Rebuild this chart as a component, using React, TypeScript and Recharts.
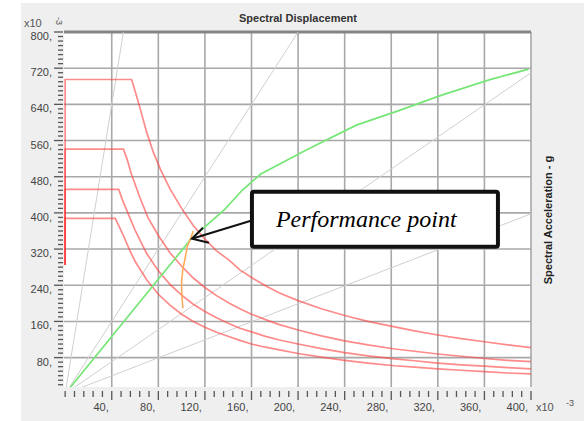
import React from "react";
import { LineChart, Line, XAxis, YAxis, CartesianGrid, ReferenceLine, ReferenceDot } from "recharts";

type P = { x: number; y: number };

// Demand spectra (ADRS), x = Sd (x10^-3), y = Sa (x10^-3 g)
const demand1: P[] = [
  { x: 0, y: 285 }, { x: 0, y: 695 }, { x: 57, y: 695 }, { x: 60, y: 670 }, { x: 65, y: 625 },
  { x: 70, y: 578 }, { x: 76, y: 532 }, { x: 82, y: 495 }, { x: 90, y: 453 }, { x: 100, y: 410 },
  { x: 110, y: 372 }, { x: 120, y: 342 }, { x: 130, y: 316 }, { x: 141, y: 295 }, { x: 150, y: 274 },
  { x: 160, y: 257 }, { x: 172, y: 239 }, { x: 184, y: 223 }, { x: 200, y: 206 }, { x: 220, y: 188 },
  { x: 240, y: 173 }, { x: 260, y: 160 }, { x: 283, y: 148 }, { x: 300, y: 139 }, { x: 320, y: 130 },
  { x: 340, y: 122 }, { x: 360, y: 115 }, { x: 380, y: 108 }, { x: 400, y: 102 },
];
const demand2: P[] = [
  { x: 0, y: 285 }, { x: 0, y: 541 }, { x: 50, y: 541 }, { x: 53, y: 520 }, { x: 57, y: 485 },
  { x: 64, y: 435 }, { x: 71, y: 390 }, { x: 80, y: 350 }, { x: 90, y: 312 }, { x: 100, y: 282 },
  { x: 110, y: 256 }, { x: 120, y: 235 }, { x: 130, y: 217 }, { x: 141, y: 200 }, { x: 150, y: 188 },
  { x: 160, y: 176 }, { x: 172, y: 164 }, { x: 184, y: 153 }, { x: 200, y: 141 }, { x: 220, y: 128 },
  { x: 240, y: 117 }, { x: 260, y: 108 }, { x: 283, y: 99 }, { x: 300, y: 94 }, { x: 320, y: 88 },
  { x: 340, y: 83 }, { x: 360, y: 78 }, { x: 380, y: 74 }, { x: 400, y: 71 },
];
const demand3: P[] = [
  { x: 0, y: 285 }, { x: 0, y: 452 }, { x: 46, y: 452 }, { x: 49, y: 430 }, { x: 53, y: 405 },
  { x: 60, y: 362 }, { x: 70, y: 310 }, { x: 80, y: 272 }, { x: 90, y: 242 }, { x: 100, y: 218 },
  { x: 110, y: 198 }, { x: 120, y: 182 }, { x: 130, y: 168 }, { x: 141, y: 155 }, { x: 150, y: 145 },
  { x: 160, y: 137 }, { x: 172, y: 127 }, { x: 184, y: 119 }, { x: 200, y: 110 }, { x: 220, y: 100 },
  { x: 240, y: 91 }, { x: 260, y: 84 }, { x: 283, y: 77 }, { x: 300, y: 73 }, { x: 320, y: 68 },
  { x: 340, y: 64 }, { x: 360, y: 61 }, { x: 380, y: 58 }, { x: 400, y: 55 },
];
const demand4: P[] = [
  { x: 0, y: 285 }, { x: 0, y: 388 }, { x: 43, y: 388 }, { x: 46, y: 372 }, { x: 50, y: 350 },
  { x: 55, y: 320 }, { x: 60, y: 293 }, { x: 70, y: 252 }, { x: 80, y: 220 }, { x: 90, y: 196 },
  { x: 100, y: 176 }, { x: 110, y: 160 }, { x: 120, y: 147 }, { x: 130, y: 136 }, { x: 141, y: 126 },
  { x: 150, y: 118 }, { x: 160, y: 110 }, { x: 172, y: 103 }, { x: 184, y: 97 }, { x: 200, y: 89 },
  { x: 220, y: 81 }, { x: 240, y: 74 }, { x: 260, y: 68 }, { x: 283, y: 62 }, { x: 300, y: 59 },
  { x: 320, y: 55 }, { x: 340, y: 52 }, { x: 360, y: 49 }, { x: 380, y: 46 }, { x: 400, y: 44 },
];

// Capacity curve (green)
const capacity: P[] = [
  { x: 0, y: 0 }, { x: 78, y: 247 }, { x: 108, y: 342 }, { x: 137, y: 408 }, { x: 152, y: 450 },
  { x: 168, y: 486 }, { x: 207, y: 539 }, { x: 250, y: 594 }, { x: 284, y: 624 }, { x: 324, y: 661 },
  { x: 364, y: 694 }, { x: 398, y: 718 },
];

// Demand point locus (orange)
const locus: P[] = [
  { x: 110, y: 360 }, { x: 108, y: 345 }, { x: 105, y: 327 }, { x: 103, y: 300 }, { x: 101, y: 274 },
  { x: 100, y: 250 }, { x: 100, y: 230 }, { x: 100.5, y: 210 }, { x: 101, y: 189 },
];

// Constant period lines (gray)
const period1: P[] = [{ x: 0, y: 0 }, { x: 50, y: 800 }];
const period2: P[] = [{ x: 0, y: 0 }, { x: 200, y: 800 }];
const period3: P[] = [{ x: 0, y: 0 }, { x: 400, y: 710 }];
const period4: P[] = [{ x: 0, y: 0 }, { x: 400, y: 398 }];

const performancePoint = { x: 108, y: 343 };

const xMajor = [40, 80, 120, 160, 200, 240, 280, 320, 360, 400];
const yMajor = [80, 160, 240, 320, 400, 480, 560, 640, 720, 800];
const xMinor = Array.from({ length: 51 }, (_, i) => i * 8);
const yMinor = Array.from({ length: 79 }, (_, i) => 20 + i * 10);

const FONT = "'Liberation Sans', Arial, sans-serif";

const XTick = (props: any) => {
  const { x, y, payload } = props;
  const v = payload.value;
  const major = xMajor.includes(v);
  return (
    <g>
      <line x1={x} x2={x} y1={y + 4} y2={y + (major ? 13 : 10)} stroke="#555" strokeWidth={1.3} />
      {major && (
        <text x={x - 3} y={y + 24} textAnchor="end" fontSize={11} fill="#444" fontFamily={FONT}>
          {v},
        </text>
      )}
    </g>
  );
};

const YTick = (props: any) => {
  const { x, y, payload } = props;
  const v = payload.value;
  const major = yMajor.includes(v);
  return (
    <g>
      <line x1={x - (major ? 10 : 6)} x2={x - 1} y1={y} y2={y} stroke="#555" strokeWidth={1.3} />
      {major && (
        <text x={x - 12} y={y + 8} textAnchor="end" fontSize={11} fill="#444" fontFamily={FONT}>
          {v},
        </text>
      )}
    </g>
  );
};

const PerfShape = (props: any) => {
  const { cx, cy } = props;
  if (cx == null || cy == null) return null;
  return (
    <g>
      <line x1={cx + 60} y1={cy - 18} x2={cx + 1} y2={cy} stroke="#111" strokeWidth={2} />
      <polyline
        points={`${cx + 12},${cy - 11} ${cx + 1},${cy} ${cx + 18},${cy + 4}`}
        fill="none"
        stroke="#111"
        strokeWidth={2}
      />
      <rect x={cx + 61} y={cy - 47} width={246} height={55} rx={2} fill="#fff" stroke="#111" strokeWidth={4} />
      <text
        x={cx + 85}
        y={cy - 12}
        fontSize={24}
        fontStyle="italic"
        fontFamily="'Liberation Serif', 'Times New Roman', serif"
        fill="#000"
      >
        Performance point
      </text>
    </g>
  );
};

const red = "#ff3c3c";

export default function App() {
  return (
    <div style={{ position: "absolute", left: 0, top: 0, width: 584, height: 421, background: "#fff", overflow: "hidden" }}>
      <div style={{ position: "absolute", left: 21, top: 3, width: 563, height: 418, background: "#efefef" }} />
      <div style={{ position: "absolute", left: 0, top: 0 }}>
        <LineChart width={584} height={421} margin={{ top: 32, right: 53, bottom: 0, left: 0 }}>
          <CartesianGrid
            horizontalValues={yMajor}
            verticalValues={xMajor}
            stroke="#a8a8a8"
            strokeWidth={1.6}
            fill="#fff"
          />
          <XAxis
            type="number"
            dataKey="x"
            domain={[-1, 400]}
            allowDataOverflow
            ticks={xMinor}
            interval={0}
            height={34}
            tickSize={0}
            tickMargin={0}
            axisLine={false}
            tickLine={false}
            tick={XTick}
          />
          <YAxis
            type="number"
            dataKey="y"
            domain={[15, 800]}
            allowDataOverflow
            ticks={yMinor}
            interval={0}
            width={64}
            tickSize={0}
            tickMargin={0}
            axisLine={false}
            tickLine={false}
            tick={YTick}
          />
          <ReferenceLine y={800} stroke="#858585" strokeWidth={3} />
          <Line data={period1} dataKey="y" type="linear" stroke="#cfcfcf" strokeWidth={1} dot={false} isAnimationActive={false} />
          <Line data={period2} dataKey="y" type="linear" stroke="#cfcfcf" strokeWidth={1} dot={false} isAnimationActive={false} />
          <Line data={period3} dataKey="y" type="linear" stroke="#cfcfcf" strokeWidth={1} dot={false} isAnimationActive={false} />
          <Line data={period4} dataKey="y" type="linear" stroke="#cfcfcf" strokeWidth={1} dot={false} isAnimationActive={false} />
          <Line data={demand1} dataKey="y" type="linear" stroke={red} strokeOpacity={0.6} strokeWidth={1.7} dot={false} isAnimationActive={false} />
          <Line data={demand2} dataKey="y" type="linear" stroke={red} strokeOpacity={0.6} strokeWidth={1.7} dot={false} isAnimationActive={false} />
          <Line data={demand3} dataKey="y" type="linear" stroke={red} strokeOpacity={0.6} strokeWidth={1.7} dot={false} isAnimationActive={false} />
          <Line data={demand4} dataKey="y" type="linear" stroke={red} strokeOpacity={0.6} strokeWidth={1.7} dot={false} isAnimationActive={false} />
          <Line data={capacity} dataKey="y" type="linear" stroke="#76e676" strokeWidth={1.7} dot={false} isAnimationActive={false} />
          <Line data={locus} dataKey="y" type="linear" stroke="#ffaa5a" strokeWidth={1.6} dot={false} isAnimationActive={false} />
          <ReferenceDot x={performancePoint.x} y={performancePoint.y} r={0} shape={PerfShape} />
        </LineChart>
      </div>
      <svg width={584} height={421} style={{ position: "absolute", left: 0, top: 0, pointerEvents: "none" }}>
        <text x={298} y={22} textAnchor="middle" fontSize={11} fontWeight="bold" fill="#333" fontFamily={FONT}>
          Spectral Displacement
        </text>
        <text
          x={552}
          y={220}
          textAnchor="middle"
          fontSize={11}
          fontWeight="bold"
          fill="#222"
          fontFamily={FONT}
          transform="rotate(-90 552 220)"
        >
          Spectral Acceleration - g
        </text>
        <text x={24} y={27} fontSize={11} fill="#555" fontFamily={FONT}>x10</text>
        <text x={56} y={17} fontSize={9} fill="#555" fontFamily={FONT} transform="rotate(90 56 17)">-3</text>
        <text x={536} y={411} fontSize={11} fill="#555" fontFamily={FONT}>x10</text>
        <text x={566} y={406} fontSize={9} fill="#555" fontFamily={FONT}>-3</text>
      </svg>
    </div>
  );
}
